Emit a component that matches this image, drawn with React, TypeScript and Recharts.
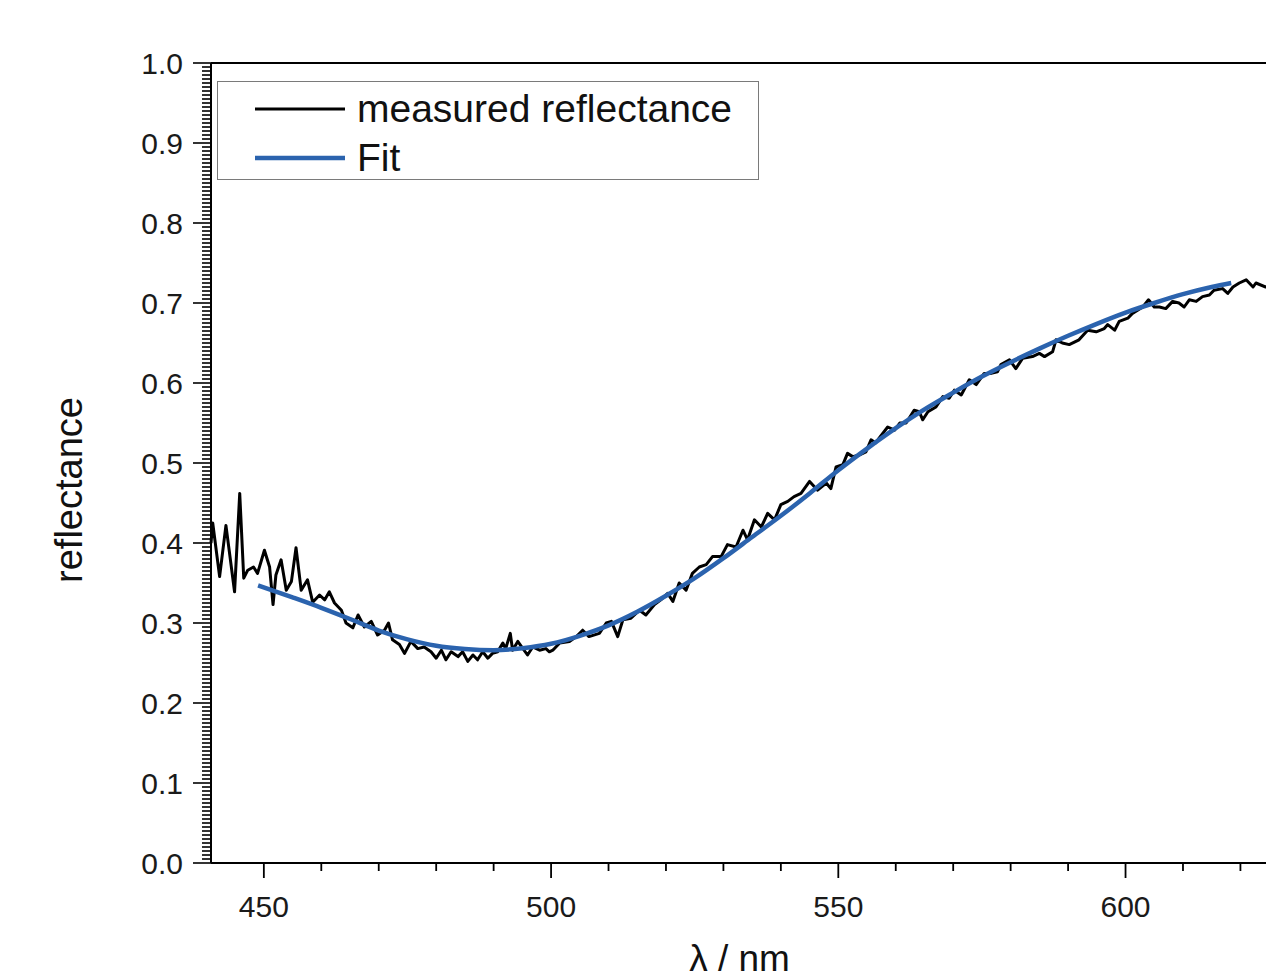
import { Label, Legend, Line, LineChart, ReferenceLine, XAxis, YAxis } from "recharts";

const FONT = '"Liberation Sans", Arial, Helvetica, sans-serif';
const BLUE = "#2b63ae";

// measured spectrum (nm / reflectance)
const measuredNm = [
  440.8, 441.1, 442.3, 443.4, 444.9, 445.8, 446.5, 447.2, 448.2, 448.9,
  450.1, 451.0, 451.6, 452.1, 453.0, 453.9, 454.8, 455.6, 456.5, 457.6,
  458.5, 459.7, 460.6, 461.4, 462.3, 463.5, 464.3, 465.5, 466.4, 467.5,
  468.7, 469.8, 471.0, 471.7, 472.4, 473.6, 474.5, 475.6, 476.8, 477.9,
  479.1, 480.0, 480.9, 481.7, 482.6, 483.8, 484.6, 485.5, 486.4, 487.2,
  488.1, 489.0, 489.8, 490.7, 491.6, 492.1, 492.9, 493.3, 494.2, 495.1,
  495.9, 496.8, 498.0, 499.1, 499.7, 500.3, 501.5, 503.2, 504.4, 505.5,
  506.6, 508.4, 509.6, 510.5, 511.6, 512.5, 513.9, 515.4, 516.5, 518.0,
  519.1, 520.3, 521.2, 522.3, 523.5, 524.6, 525.8, 527.0, 528.1, 529.6,
  530.7, 532.2, 533.4, 534.2, 535.4, 536.6, 537.7, 538.9, 540.0, 541.2,
  542.3, 543.5, 545.0, 546.4, 547.9, 548.7, 549.6, 550.8, 551.6, 552.5,
  553.7, 554.8, 555.7, 556.5, 557.1, 558.6, 559.8, 560.7, 561.8, 563.2,
  564.1, 564.7, 565.6, 567.0, 568.2, 569.3, 570.2, 571.4, 572.8, 574.0,
  575.4, 576.6, 577.7, 578.3, 579.8, 580.9, 582.1, 583.8, 585.0, 585.9,
  587.3, 587.9, 589.0, 590.2, 591.9, 593.4, 594.9, 596.3, 596.9, 598.1,
  598.9, 600.4, 601.2, 602.1, 603.0, 604.0, 605.0, 605.9, 607.0, 608.2,
  609.3, 610.2, 611.1, 612.3, 613.4, 614.6, 615.4, 616.9, 617.8, 618.7,
  619.8, 621.0, 622.2, 622.7, 624.4, 624.8,
];
const measuredR = [
  0.400, 0.425, 0.358, 0.422, 0.339, 0.462, 0.356, 0.366, 0.370, 0.362,
  0.391, 0.370, 0.323, 0.360, 0.379, 0.341, 0.352, 0.394, 0.341, 0.354,
  0.326, 0.335, 0.329, 0.339, 0.325, 0.316, 0.300, 0.294, 0.310, 0.295,
  0.302, 0.285, 0.291, 0.300, 0.279, 0.273, 0.262, 0.277, 0.268, 0.270,
  0.264, 0.256, 0.266, 0.254, 0.264, 0.258, 0.264, 0.252, 0.260, 0.254,
  0.264, 0.256, 0.262, 0.264, 0.275, 0.268, 0.287, 0.266, 0.277, 0.268,
  0.260, 0.270, 0.266, 0.268, 0.264, 0.266, 0.275, 0.277, 0.283, 0.291,
  0.283, 0.287, 0.300, 0.302, 0.283, 0.304, 0.306, 0.316, 0.310, 0.323,
  0.329, 0.337, 0.327, 0.350, 0.341, 0.362, 0.370, 0.373, 0.383, 0.383,
  0.398, 0.395, 0.416, 0.404, 0.429, 0.420, 0.437, 0.429, 0.448, 0.452,
  0.458, 0.462, 0.477, 0.466, 0.475, 0.468, 0.495, 0.498, 0.512, 0.508,
  0.510, 0.514, 0.529, 0.525, 0.531, 0.545, 0.541, 0.550, 0.550, 0.566,
  0.564, 0.554, 0.564, 0.570, 0.583, 0.581, 0.591, 0.585, 0.604, 0.598,
  0.612, 0.612, 0.614, 0.623, 0.629, 0.618, 0.631, 0.633, 0.637, 0.633,
  0.639, 0.654, 0.650, 0.648, 0.654, 0.666, 0.664, 0.668, 0.673, 0.666,
  0.677, 0.681, 0.687, 0.691, 0.695, 0.704, 0.695, 0.695, 0.693, 0.702,
  0.700, 0.695, 0.704, 0.702, 0.708, 0.710, 0.716, 0.718, 0.712, 0.720,
  0.725, 0.729, 0.720, 0.725, 0.720, 0.721,
];

// fitted curve
const fitNm = [
  449, 455, 460, 465, 470, 475, 480, 485, 490, 495, 500, 505, 510, 515, 520,
  525, 530, 535, 540, 545, 550, 555, 560, 565, 570, 575, 580, 585, 590, 595,
  600, 605, 610, 615, 618.4,
];
const fitR = [
  0.347, 0.332, 0.319, 0.305, 0.2905, 0.2795, 0.2715, 0.2675, 0.266, 0.2685,
  0.274, 0.284, 0.297, 0.314, 0.334, 0.356, 0.381, 0.4075, 0.434, 0.462,
  0.491, 0.518, 0.5435, 0.567, 0.588, 0.608, 0.626, 0.643, 0.659, 0.674,
  0.688, 0.7, 0.711, 0.72, 0.725,
];

const xTicks = [450, 460, 470, 480, 490, 500, 510, 520, 530, 540, 550, 560, 570, 580, 590, 600, 610, 620];
const xMajor = [450, 500, 550, 600];
// minor y ticks every 0.005, labelled every 0.1
const yTicks = Array.from({ length: 201 }, (_, i) => i / 200);
const legendOrder = ["measured reflectance", "Fit"];

const measured = measuredNm.map((nm, i) => ({ nm, r: measuredR[i] }));
const fit = fitNm.map((nm, i) => ({ nm, r: fitR[i] }));

function YTick({ x, y, payload }: any) {
  const v = payload.value;
  const major = Math.abs(v * 10 - Math.round(v * 10)) < 1e-6;
  return (
    <g>
      <line x1={x} y1={y} x2={x - (major ? 18 : 9)} y2={y} stroke="#000" strokeWidth={1.6} />
      {major && (
        <text x={x - 28} y={y} dy="0.36em" textAnchor="end" fontSize={30} fontFamily={FONT} fill="#1a1a1a">
          {v.toFixed(1)}
        </text>
      )}
    </g>
  );
}

function XTick({ x, y, payload }: any) {
  const major = xMajor.includes(payload.value);
  return (
    <g>
      <line x1={x} y1={y} x2={x} y2={y + (major ? 15 : 8)} stroke="#000" strokeWidth={1.8} />
      {major && (
        <text x={x} y={y + 54} textAnchor="middle" fontSize={30} fontFamily={FONT} fill="#1a1a1a">
          {payload.value}
        </text>
      )}
    </g>
  );
}

function LegendBox({ payload }: any) {
  const items = [...(payload || [])].sort(
    (a: any, b: any) => legendOrder.indexOf(a.value) - legendOrder.indexOf(b.value)
  );
  return (
    <div
      style={{
        width: 542,
        height: 99,
        boxSizing: "border-box",
        border: "1.5px solid #7a7a7a",
        background: "#fff",
        fontFamily: FONT,
        fontSize: 39,
        color: "#111",
        paddingTop: 2,
      }}
    >
      {items.map((p: any) => (
        <div key={p.value} style={{ display: "flex", alignItems: "center", height: 49 }}>
          <svg width={90} height={10} style={{ marginLeft: 37, marginRight: 12 }}>
            <line x1={0} y1={5} x2={90} y2={5} stroke={p.color} strokeWidth={p.value === "Fit" ? 4.5 : 3} />
          </svg>
          <span style={{ lineHeight: 1 }}>{p.value}</span>
        </div>
      ))}
    </div>
  );
}

export default function App() {
  return (
    <div
      style={{
        position: "fixed",
        left: 0,
        top: 0,
        width: 1266,
        height: 979,
        overflow: "hidden",
        background: "#fff",
      }}
    >
      <LineChart width={1290} height={979} margin={{ top: 63, right: 22, bottom: 0, left: 0 }}>
        <XAxis
          type="number"
          dataKey="nm"
          domain={[440.8, 624.8]}
          ticks={xTicks}
          interval={0}
          tick={<XTick />}
          tickLine={false}
          tickSize={0}
          tickMargin={0}
          height={116}
          axisLine={{ stroke: "#000", strokeWidth: 2 }}
        >
          <Label
            content={({ viewBox }: any) => (
              <text
                x={viewBox.x + viewBox.width / 2}
                y={viewBox.y + 108}
                textAnchor="middle"
                fontSize={37}
                fontFamily={FONT}
                fill="#111"
              >
                λ / nm
              </text>
            )}
          />
        </XAxis>
        <YAxis
          type="number"
          domain={[0, 1]}
          ticks={yTicks}
          interval={0}
          tick={<YTick />}
          tickLine={false}
          tickSize={0}
          tickMargin={0}
          width={211}
          axisLine={{ stroke: "#000", strokeWidth: 2 }}
        >
          <Label
            content={({ viewBox }: any) => {
              const cx = viewBox.x + 68;
              const cy = viewBox.y + viewBox.height / 2 + 27;
              return (
                <text
                  x={cx}
                  y={cy}
                  dy="0.36em"
                  transform={`rotate(-90, ${cx}, ${cy})`}
                  textAnchor="middle"
                  fontSize={38}
                  fontFamily={FONT}
                  fill="#111"
                >
                  reflectance
                </text>
              );
            }}
          />
        </YAxis>
        <ReferenceLine y={1} stroke="#000" strokeWidth={2} />
        <ReferenceLine x={624.8} stroke="#000" strokeWidth={2} />
        <Legend
          layout="vertical"
          align="center"
          verticalAlign="middle"
          wrapperStyle={{ left: 217, top: 81, width: 542 }}
          content={<LegendBox />}
        />
        <Line
          data={measured}
          dataKey="r"
          name="measured reflectance"
          type="linear"
          stroke="#000"
          strokeWidth={3}
          strokeLinejoin="round"
          dot={false}
          isAnimationActive={false}
        />
        <Line
          data={fit}
          dataKey="r"
          name="Fit"
          type="monotone"
          stroke={BLUE}
          strokeWidth={4.5}
          dot={false}
          isAnimationActive={false}
        />
      </LineChart>
    </div>
  );
}
